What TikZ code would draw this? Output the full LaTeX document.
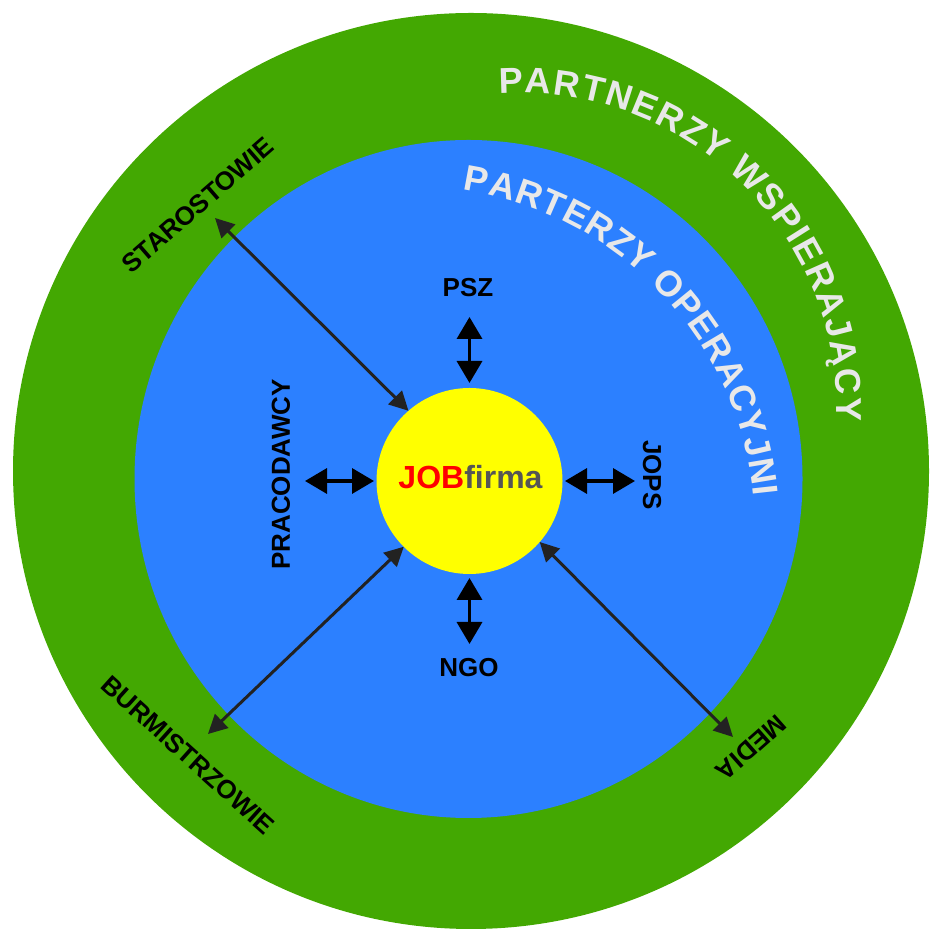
\documentclass[tikz,border=0pt]{standalone}
\usepackage{fontspec}
\setmainfont{Liberation Sans}
\usetikzlibrary{arrows.meta,decorations.text}
\definecolor{ringgreen}{RGB}{67,168,2}
\definecolor{innerblue}{RGB}{44,128,255}
\definecolor{sunyellow}{RGB}{255,255,0}
\definecolor{txtgray}{RGB}{232,232,232}
\definecolor{firmagray}{RGB}{85,85,85}
\definecolor{jobred}{RGB}{255,0,0}
\definecolor{arrowdark}{RGB}{34,34,34}
\begin{document}
\begin{tikzpicture}[x=1pt,y=1pt,
  lbl/.style={font=\bfseries\fontsize{26}{30}\selectfont, inner sep=0pt, text=black},
  longarr/.style={draw=arrowdark, line width=3pt, {Triangle[length=19pt,width=19pt]}-{Triangle[length=19pt,width=19pt]}},
  shortarr/.style={draw=black, line width=3.5pt, {Triangle[length=22pt,width=25pt]}-{Triangle[length=22pt,width=25pt]}}
]
\useasboundingbox (0,0) rectangle (931,933);
\fill[white] (0,0) rectangle (931,933);
% rings
\fill[ringgreen] (471,462) circle[radius=458pt];
\fill[innerblue] (468.5,454) ellipse[x radius=334pt, y radius=339pt];
% centre
\node[circle, fill=sunyellow, minimum size=186pt, inner sep=0pt, outer sep=0pt] (jf) at (469.5,452) {};
\node[inner sep=0pt, font=\bfseries\fontsize{32}{36}\selectfont] (jftext) at (470.5,455.5) {\textcolor{jobred}{JOB}\textcolor{firmagray}{firma}};
% ring titles
\path[decorate, decoration={text along path, text align=fit to path,
  text={|\bfseries\fontsize{36}{40}\selectfont\color{txtgray}|PARTNERZY WSPIERAJĄCY}}]
  (520,523) ++(93.8:317pt) arc[start angle=93.8, end angle=-2.0, radius=317pt];
\path[decorate, decoration={text along path, text align=fit to path,
  text={|\bfseries\fontsize{36}{40}\selectfont\color{txtgray}|PARTERZY OPERACYJNI}}]
  (412,403.5) ++(81.5:343.5pt) arc[start angle=81.5, end angle=5.5, radius=343.5pt];
% labels
\node[lbl] (psz) at (468,645) {PSZ};
\node[lbl] (ngo) at (469,265) {NGO};
\node[lbl, rotate=90] (prac) at (281,458.5) {PRACODAWCY};
\node[lbl, rotate=-90] (jops) at (652,458) {JOPS};
\node[lbl, rotate=41] (staro) at (198,728) {STAROSTOWIE};
\node[lbl, rotate=-42] (burm) at (188,178) {BURMISTRZOWIE};
\node[lbl, rotate=-138.5] (media) at (751,185.5) {MEDIA};
% arrow end points
\coordinate (pszend) at (469.5,616);
\coordinate (ngoend) at (469.5,289);
\coordinate (pracend) at (305,452);
\coordinate (jopsend) at (635,452);
\coordinate (staend) at (215,715);
\coordinate (burend) at (208,199);
\coordinate (medend) at (733,196);
% short arrows
\draw[shortarr, shorten <=5pt] (jf.north) -- (pszend);
\draw[shortarr, shorten <=4pt] (jf.south) -- (ngoend);
\draw[shortarr, shorten <=2.5pt] (jf.west) -- (pracend);
\draw[shortarr, shorten <=2.5pt] (jf.east) -- (jopsend);
% long arrows
\draw[longarr] (jf.131) -- (staend);
\draw[longarr] (jf.225) -- (burend);
\draw[longarr] (jf.-41) -- (medend);
\end{tikzpicture}
\end{document}
